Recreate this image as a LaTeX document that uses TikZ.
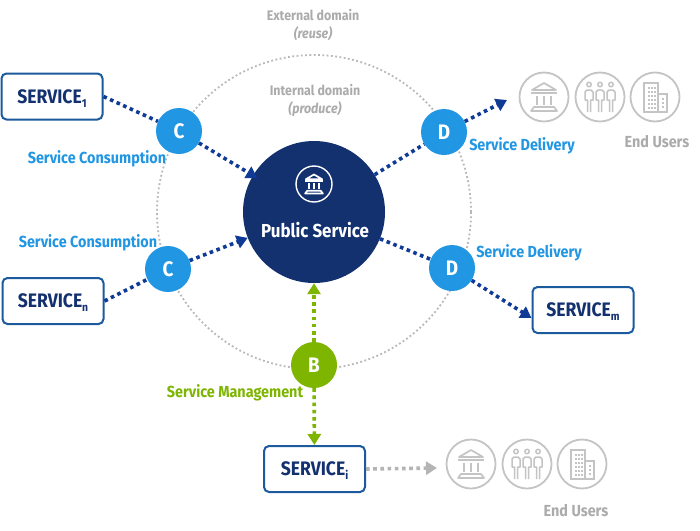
\documentclass[tikz,border=0pt]{standalone}
\usepackage{fontspec}
\setmainfont[FakeStretch=0.9]{Fira Sans}
\usetikzlibrary{arrows.meta}
\definecolor{navy}{HTML}{13306F}
\definecolor{arrowblue}{HTML}{0F3A96}
\definecolor{boxblue}{HTML}{1B5A9C}
\definecolor{skyblue}{HTML}{2196E3}
\definecolor{leaf}{HTML}{7DB500}
\definecolor{iconc}{HTML}{C4C4C4}
\definecolor{flowgray}{HTML}{B4B4B4}
\definecolor{labelgray}{HTML}{ABABAB}
\definecolor{ringgray}{HTML}{B8B8B8}
\newcommand{\svcname}[1]{SERVICE\raisebox{-4pt}{\fontsize{11.5}{12}\selectfont #1}}
\tikzset{
  x=1pt,y=-1pt,
  every node/.style={font=\bfseries},
  svcbox/.style={draw=boxblue,line width=2pt,fill=white,rounded corners=5pt,minimum width=101pt,minimum height=46pt,inner sep=0pt,text height=14pt,text depth=0.5pt,text=navy,font=\bfseries\fontsize{19.5}{20}\selectfont},
  letter/.style={circle,fill=#1,minimum size=46pt,inner sep=0pt,text=white,font=\bfseries\fontsize{21}{22}\selectfont},
  lab/.style={inner sep=0pt,font=\bfseries\fontsize{16}{17}\selectfont},
  soft/.style={inner sep=0pt,align=center,text=labelgray,font=\bfseries\fontsize{13.8}{17}\selectfont},
  iconring/.style={circle,draw=iconc,line width=1.8pt,minimum size=49pt,inner sep=0pt},
  flow/.style={line width=3.6pt,dash pattern=on 3.6pt off 3.6pt,color=#1},
  tip/.style={-{Triangle[length=11pt,width=13pt]}},
  pics/bank/.style={code={
    \draw[line width=1.7pt,line join=round] (-12,-7)--(0,-14)--(12,-7)--cycle;
    \draw[line width=1.7pt] (-13,-4)--(13,-4);
    \foreach \cx in {-7,0,7}{\draw[line width=1.7pt] (\cx,-1)--(\cx,8);}
    \draw[line width=1.7pt,line join=round] (-10,10)--(10,10)--(13,14)--(-13,14)--cycle;
  }},
  pics/people/.style={code={
    \foreach \cx in {-11,0,11}{
      \draw[line width=1.5pt] (\cx,-12.5) circle (2.2);
      \draw[line width=1.5pt,line join=round] (\cx-1.5,15)--(\cx-1.5,3)--(\cx-4,3)--(\cx-4,-5)--(\cx-2,-7)--(\cx+2,-7)--(\cx+4,-5)--(\cx+4,3)--(\cx+1.5,3)--(\cx+1.5,15);
    }
  }},
  pics/towers/.style={code={
    \draw[line width=1.7pt] (-11,15)--(-11,-14)--(3,-14)--(3,15)--cycle;
    \draw[line width=1.7pt] (3,-3)--(12,-3)--(12,15)--(3,15);
    \foreach \wy in {-10,-6,-2,2,6,10}{
      \foreach \wx in {-7,-4,-1}{\fill (\wx,\wy) rectangle +(2,2);}
    }
    \foreach \wy in {1,5,9}{\fill (7,\wy) rectangle +(2,2);}
  }},
}
\begin{document}
\begin{tikzpicture}
\useasboundingbox (0,0) rectangle (700,530);
\fill[white] (0,0) rectangle (700,530);
% domain ring
\node[circle,draw=ringgray,line width=1.8pt,dash pattern=on 1.8pt off 2.5pt,minimum size=314pt,inner sep=0pt] (ring) at (314,212) {};
% hub
\node[circle,fill=navy,minimum size=142pt,inner sep=0pt] (ps) at (314,212) {};
\node[text=white,inner sep=0pt,font=\bfseries\fontsize{18.8}{20}\selectfont] (pstext) at (315,230.5) {Public Service};
\node[circle,draw=white,line width=1.4pt,minimum size=36pt,inner sep=0pt] (psicon) at (314,184) {};
\pic[white,scale=0.68] at (314,184) {bank};
% letters
\node[letter=skyblue] (c1) at (179,131) {C};
\node[letter=skyblue] (c2) at (168,269) {C};
\node[letter=skyblue] (d1) at (444,132) {D};
\node[letter=skyblue] (d2) at (452,268) {D};
\node[letter=leaf] (b) at (314,365) {B};
% service boxes
\node[svcbox] (s1) at (52,96.5) {\svcname{1}};
\node[svcbox] (sn) at (53,301) {\svcname{n}};
\node[svcbox] (sm) at (583,310) {\svcname{m}};
\node[svcbox] (si) at (314.5,469) {\svcname{i}};
% free ends
\coordinate (d1end) at (507,100);
\coordinate (siend) at (437,468);
% icon rings
\node[iconring] (i1) at (544,97) {};
\node[iconring] (i2) at (600,97) {};
\node[iconring] (i3) at (655,97) {};
\node[iconring] (j1) at (471,464) {};
\node[iconring] (j2) at (527,464) {};
\node[iconring] (j3) at (582,464) {};
\pic[iconc] at (i1) {bank};
\pic[iconc] at (i2) {people};
\pic[iconc] at (i3) {towers};
\pic[iconc] at (j1) {bank};
\pic[iconc] at (j2) {people};
\pic[iconc] at (j3) {towers};
% connectors
\draw[flow=arrowblue] (s1.east) -- (c1);
\draw[flow=arrowblue,tip,shorten >=-5pt] (c1) -- (ps);
\draw[flow=arrowblue] (sn.east) -- (c2);
\draw[flow=arrowblue,tip] (c2) -- (ps);
\draw[flow=arrowblue] (ps) -- (d1);
\draw[flow=arrowblue,tip] (d1) -- (d1end);
\draw[flow=arrowblue] (ps) -- (d2);
\draw[flow=arrowblue,tip] (d2) -- ([yshift=-8pt]sm.west);
\draw[flow=leaf,tip] (b) -- (ps);
\draw[flow=leaf,tip] (b) -- (si);
\draw[flow=flowgray,tip] (si.east) -- (siend);
% labels
\node[soft] (ext) at (313,25) {External domain\\[1pt]{\itshape (reuse)}};
\node[soft] (int) at (315,100) {Internal domain\\[1pt]{\itshape (produce)}};
\node[lab,text=skyblue] (l1) at (97,159) {Service Consumption};
\node[lab,text=skyblue] (l2) at (88,243) {Service Consumption};
\node[lab,text=skyblue] (l3) at (522,146) {Service Delivery};
\node[lab,text=skyblue] (l4) at (529,252.5) {Service Delivery};
\node[lab,text=leaf] (l5) at (235,392.5) {Service Management};
\node[lab,text=labelgray] (e1) at (657,142) {End Users};
\node[lab,text=labelgray] (e2) at (576,511) {End Users};
\end{tikzpicture}
\end{document}
